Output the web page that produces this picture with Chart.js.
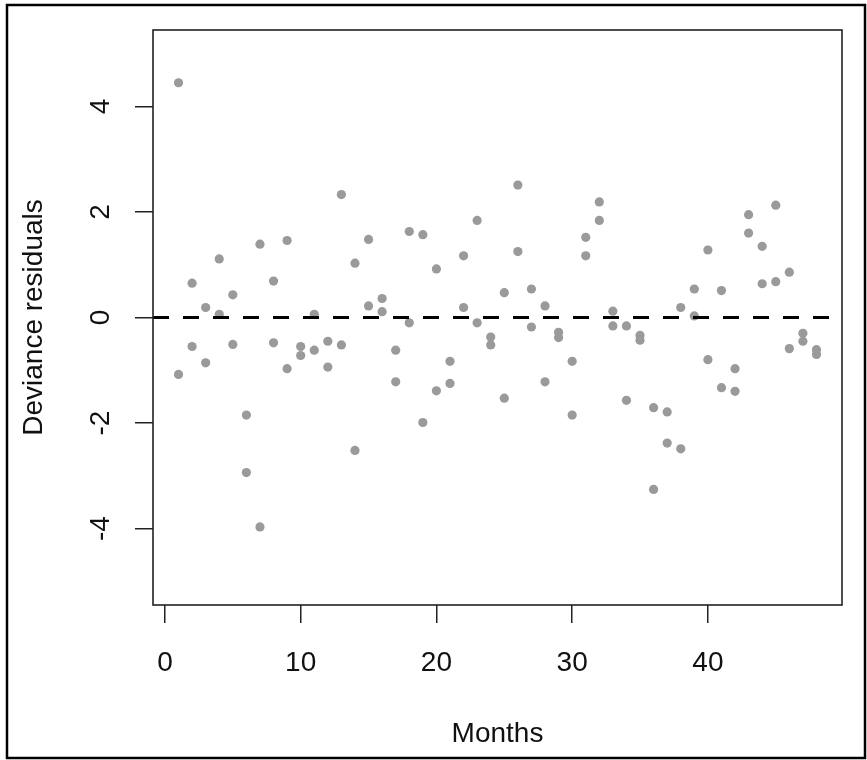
<!DOCTYPE html>
<html>
<head>
<meta charset="utf-8">
<script src="https://cdn.jsdelivr.net/npm/chart.js@4/dist/chart.umd.min.js"></script>
<style>
    html, body { margin: 0; padding: 0; background: #fff; }
    canvas { display: block; }
</style>
</head>
<body>
<canvas id="residualCanvas" width="867" height="760"></canvas>
<script>
// months on the x axis, two deviance residuals per month
const months = [1, 2, 3, 4, 5, 6, 7, 8, 9, 10, 11, 12,
    13, 14, 15, 16, 17, 18, 19, 20, 21, 22, 23, 24,
    25, 26, 27, 28, 29, 30, 31, 32, 33, 34, 35, 36,
    37, 38, 39, 40, 41, 42, 43, 44, 45, 46, 47, 48];
const residFirst = [4.45, 0.65, 0.19, 1.11, 0.43, -1.85, 1.39, 0.69, 1.46, -0.55, 0.06, -0.45,
    2.33, 1.03, 1.48, 0.36, -0.62, 1.63, 1.57, 0.92, -0.83, 1.17, 1.84, -0.37,
    0.47, 2.51, 0.54, 0.22, -0.28, -0.83, 1.52, 2.19, 0.12, -0.16, -0.34, -1.71,
    -1.79, 0.19, 0.54, 1.28, 0.51, -0.97, 1.95, 1.35, 2.13, 0.86, -0.30, -0.61];
const residSecond = [-1.08, -0.55, -0.86, 0.06, -0.51, -2.94, -3.97, -0.48, -0.97, -0.72, -0.62, -0.94,
    -0.52, -2.52, 0.22, 0.11, -1.22, -0.10, -1.99, -1.39, -1.25, 0.19, -0.10, -0.52,
    -1.53, 1.25, -0.18, -1.22, -0.38, -1.85, 1.17, 1.84, -0.16, -1.57, -0.43, -3.26,
    -2.38, -2.49, 0.03, -0.80, -1.33, -1.40, 1.60, 0.64, 0.68, -0.59, -0.45, -0.70];

const xTicks = [0, 10, 20, 30, 40];
const yTicks = [-4, -2, 0, 2, 4];
const xRange = [-0.88, 49.88];
const yRange = [-5.45, 5.45];
const refLevel = 0;

const fontFamily = "'Liberation Sans', Arial, sans-serif";

const points = [];
months.forEach((m, i) => {
    points.push({ x: m, y: residFirst[i] });
    points.push({ x: m, y: residSecond[i] });
});

// plot box and the outer picture frame
const framePlugin = {
    id: "frames",
    afterDraw(chart) {
        const ctx = chart.ctx;
        const a = chart.chartArea;
        ctx.save();
        ctx.strokeStyle = "#222";
        ctx.lineWidth = 1.6;
        ctx.strokeRect(a.left, a.top, a.right - a.left, a.bottom - a.top);
        ctx.strokeStyle = "#000";
        ctx.lineWidth = 2.5;
        ctx.strokeRect(7, 5, 858, 753);
        ctx.restore();
    }
};

new Chart(document.getElementById("residualCanvas").getContext("2d"), {
    type: "scatter",
    data: {
        datasets: [
            {
                label: "Residuals",
                data: points,
                backgroundColor: "#9a9a9a",
                borderWidth: 0,
                pointRadius: 4.6,
                order: 2
            },
            {
                label: "Zero",
                type: "line",
                data: [{ x: xRange[0], y: refLevel }, { x: xRange[1], y: refLevel }],
                borderColor: "#000",
                borderWidth: 3,
                borderDash: [16, 14],
                pointRadius: 0,
                fill: false,
                order: 1
            }
        ]
    },
    options: {
        responsive: false,
        animation: false,
        events: [],
        layout: { padding: { top: 30, right: 25, left: 0, bottom: 0 } },
        plugins: {
            legend: { display: false },
            tooltip: { enabled: false }
        },
        scales: {
            x: {
                type: "linear",
                min: xRange[0],
                max: xRange[1],
                afterBuildTicks: (s) => { s.ticks = xTicks.map(v => ({ value: v })); },
                afterFit: (s) => { s.height = 155; s.paddingLeft = 0; s.paddingRight = 0; },
                grid: { drawOnChartArea: false, drawTicks: true, tickLength: 18, color: "#222", lineWidth: 1.5 },
                border: { display: false },
                ticks: {
                    color: "#111",
                    padding: 23,
                    font: { family: fontFamily, size: 28 },
                    maxRotation: 0
                },
                title: {
                    display: true,
                    text: "Months",
                    color: "#111",
                    font: { family: fontFamily, size: 28 },
                    padding: { top: 0, bottom: 9 }
                }
            },
            y: {
                type: "linear",
                min: yRange[0],
                max: yRange[1],
                afterBuildTicks: (s) => { s.ticks = yTicks.map(v => ({ value: v })); },
                afterFit: (s) => { s.width = 153; s.paddingTop = 0; s.paddingBottom = 0; },
                grid: { drawOnChartArea: false, drawTicks: true, tickLength: 18, color: "#222", lineWidth: 1.5 },
                border: { display: false },
                ticks: {
                    color: "#111",
                    padding: 21,
                    crossAlign: "center",
                    minRotation: 90,
                    maxRotation: 90,
                    font: { family: fontFamily, size: 28 }
                },
                title: {
                    display: true,
                    text: "Deviance residuals",
                    color: "#111",
                    font: { family: fontFamily, size: 28 },
                    padding: { top: 17, bottom: 0 }
                }
            }
        }
    },
    plugins: [framePlugin]
});
</script>
</body>
</html>
